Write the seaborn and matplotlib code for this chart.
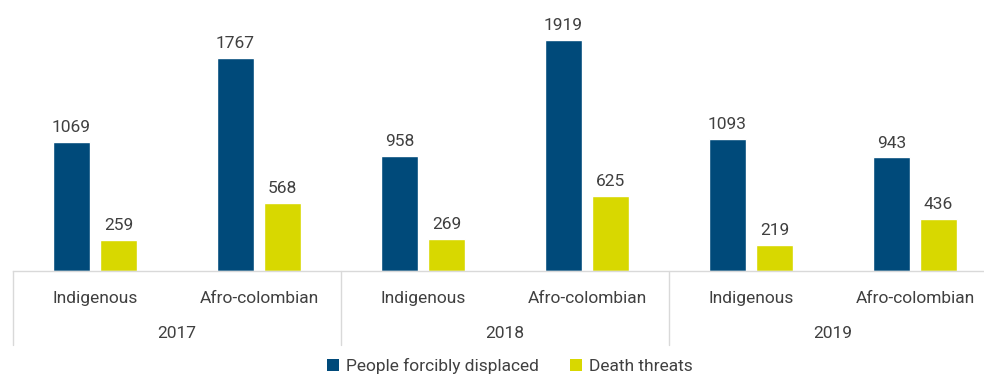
import matplotlib
matplotlib.use("Agg")
import matplotlib.pyplot as plt
import matplotlib.transforms as mtransforms
from matplotlib.patches import Patch
import seaborn as sns
import pandas as pd

years = ["2017", "2018", "2019"]
groups = ["Indigenous", "Afro-colombian"]
series = ["People forcibly displaced", "Death threats"]
displaced = [1069, 1767, 958, 1919, 1093, 943]
threats = [259, 568, 269, 625, 219, 436]
colors = ["#004a7a", "#d8d800"]

sns.set_theme(style="white")
plt.rcParams["font.family"] = ["Roboto", "DejaVu Sans"]

labels = [f"{y}|{g}" for y in years for g in groups]
df = pd.DataFrame({
    "slot": labels * 2,
    "value": displaced + threats,
    "series": [series[0]] * 6 + [series[1]] * 6,
})

fig = plt.figure(figsize=(9.84, 3.75), dpi=100)
ax = fig.add_axes([13 / 984, 104 / 375, 984 / 984, 271 / 375])
sns.barplot(data=df, x="slot", y="value", hue="series", order=labels,
            hue_order=series, palette=colors, width=0.572, gap=0.21,
            saturation=1, legend=False, ax=ax)

for cont in ax.containers:
    ax.bar_label(cont, fmt="%d", padding=5, fontsize=12.5, color="#404040")

ax.set_xlim(-0.5, 5.5)
ax.set_ylim(0, 2251)
ax.set_xlabel("")
ax.set_ylabel("")
ax.set_xticks([])
ax.set_yticks([])
for s in ["top", "right", "left"]:
    ax.spines[s].set_visible(False)
ax.spines["bottom"].set_color("#d9d9d9")
ax.spines["bottom"].set_linewidth(1)

trans = mtransforms.blended_transform_factory(ax.transData, ax.transAxes)
for xs in [-0.5, 1.5, 3.5, 5.5]:
    ax.plot([xs, xs], [0, -0.273], transform=trans, color="#d9d9d9",
            lw=1, clip_on=False)
for i, lab in enumerate(labels):
    y, g = lab.split("|")
    ax.text(i, -0.1, g, transform=trans, ha="center", va="center",
            fontsize=12.5, color="#404040")
for j, y in enumerate(years):
    ax.text(2 * j + 0.5, -0.232, y, transform=trans, ha="center",
            va="center", fontsize=12.5, color="#404040")

handles = [Patch(facecolor=c, edgecolor="none") for c in colors]
fig.legend(handles, series, loc="center", bbox_to_anchor=(0.518, 9 / 375),
           ncol=2, frameon=False, fontsize=12.5, handlelength=0.7,
           handleheight=0.7, handletextpad=0.4, columnspacing=1.8,
           labelcolor="#404040")

fig.savefig("out.png", dpi=100)
